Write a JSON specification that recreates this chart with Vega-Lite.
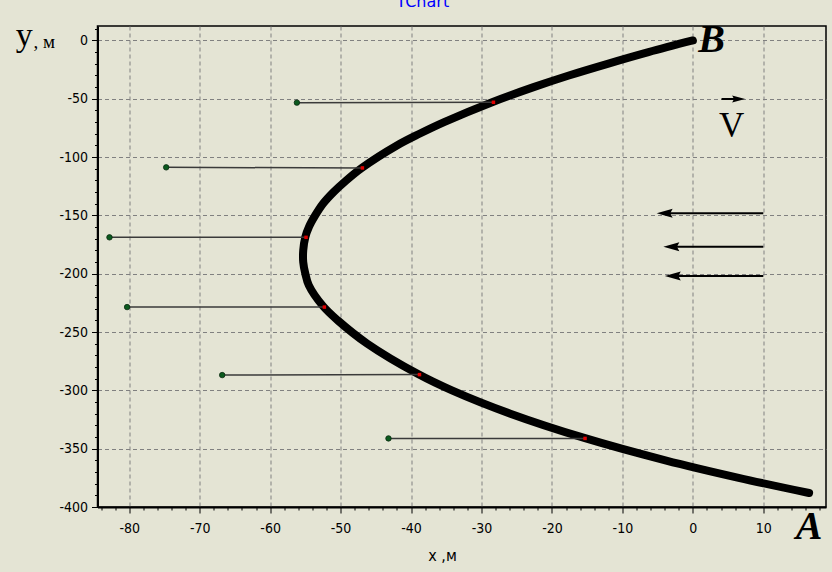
{
  "$schema": "https://vega.github.io/schema/vega-lite/v6.json",
  "autosize": "none",
  "width": 728.5,
  "height": 481,
  "padding": {"left": 97.5, "top": 26, "right": 6, "bottom": 65},
  "background": "#E4E4D4",
  "title": {"text": "TChart", "color": "#0000FF", "fontSize": 16, "font": "DejaVu Sans", "fontWeight": "normal", "anchor": "middle", "dx": -39, "dy": 6, "offset": 2, "baseline": "alphabetic"},
  "resolve": {"axis": {"x": "independent", "y": "independent"}},
  "config": {
    "view": {"fill": "#E4E4D4", "stroke": "#000000", "strokeWidth": 1.5},
    "axis": {"labelFont": "DejaVu Sans Condensed, Liberation Sans, sans-serif", "labelFontSize": 14, "labelColor": "#000000", "titleFont": "DejaVu Sans Condensed, Liberation Sans, sans-serif", "titleColor": "#000000", "domainColor": "#000000", "domainWidth": 2, "tickColor": "#000000", "tickSize": 6, "gridColor": "#808080", "gridDash": [4, 3], "gridWidth": 1, "labelOverlap": false, "labelBound": false, "labelFlush": false}
  },
  "datasets": {
    "curve": [
      {"i": 0, "x": 0, "y": 0},
      {"i": 1, "x": -6.3, "y": -10},
      {"i": 2, "x": -12.1, "y": -20},
      {"i": 3, "x": -17.6, "y": -30},
      {"i": 4, "x": -22.6, "y": -40},
      {"i": 5, "x": -28.4, "y": -52.7},
      {"i": 6, "x": -35.3, "y": -70},
      {"i": 7, "x": -38.8, "y": -80},
      {"i": 8, "x": -42.0, "y": -90},
      {"i": 9, "x": -47.0, "y": -109.3},
      {"i": 10, "x": -49.2, "y": -120},
      {"i": 11, "x": -51.0, "y": -130},
      {"i": 12, "x": -52.5, "y": -140},
      {"i": 13, "x": -53.6, "y": -150},
      {"i": 14, "x": -54.5, "y": -160},
      {"i": 15, "x": -55.0, "y": -168.5},
      {"i": 16, "x": -55.3, "y": -180},
      {"i": 17, "x": -55.3, "y": -190},
      {"i": 18, "x": -55.0, "y": -200},
      {"i": 19, "x": -54.5, "y": -210},
      {"i": 20, "x": -52.5, "y": -227.7},
      {"i": 21, "x": -50.4, "y": -240},
      {"i": 22, "x": -46.2, "y": -260},
      {"i": 23, "x": -39.0, "y": -286},
      {"i": 24, "x": -34.2, "y": -300},
      {"i": 25, "x": -25.9, "y": -320},
      {"i": 26, "x": -15.3, "y": -341},
      {"i": 27, "x": -3.9, "y": -360},
      {"i": 28, "x": 6.5, "y": -375},
      {"i": 29, "x": 16.5, "y": -388}
    ],
    "pairs": [
      {"xg": -56.2, "yg": -53.3, "xr": -28.3, "yr": -53.0},
      {"xg": -74.75, "yg": -108.8, "xr": -46.9, "yr": -109.3},
      {"xg": -82.8, "yg": -168.8, "xr": -54.9, "yr": -168.8},
      {"xg": -80.3, "yg": -228.6, "xr": -52.3, "yr": -228.6},
      {"xg": -66.8, "yg": -286.9, "xr": -38.8, "yr": -286.5},
      {"xg": -43.2, "yg": -341.2, "xr": -15.3, "yr": -341.2}
    ],
    "wind": [
      {"tail": 10, "tip": -5.15, "head": -4.0, "y": -148.2},
      {"tail": 10, "tip": -4.2, "head": -3.05, "y": -176.8},
      {"tail": 10, "tip": -4.0, "head": -2.85, "y": -202}
    ],
    "varrow": [
      {"tail": 4.07, "tip": 7.37, "head": 6.5, "y": -50.2}
    ]
  },
  "layer": [
    {
      "data": {"name": "curve"},
      "mark": {"type": "line", "color": "#000000", "strokeWidth": 8, "strokeCap": "round", "strokeJoin": "round", "interpolate": "catmull-rom"},
      "encoding": {
        "x": {"field": "x", "type": "quantitative", "title": "x ,м", "scale": {"domain": [-84.5, 18.9], "nice": false, "zero": false},
          "axis": {"orient": "bottom", "titleFontSize": 16, "titleFontWeight": "normal", "titleX": 344.5, "titleY": 53, "titleAlign": "center", "titleBaseline": "alphabetic",
            "values": [-80,-70,-60,-50,-40,-30,-20,-10,0,10],
            "labelExpr": "datum.value < 0 ? '-' + (-datum.value) : '' + datum.value",
            "labelPadding": 8}},
        "y": {"field": "y", "type": "quantitative", "title": null, "scale": {"domain": [-400, 12.4], "nice": false, "zero": false},
          "axis": {"orient": "left",
            "values": [-400,-350,-300,-250,-200,-150,-100,-50,0],
            "labelExpr": "datum.value < 0 ? '-' + (-datum.value) : '' + datum.value",
            "labelPadding": 4}},
        "order": {"field": "i", "type": "quantitative"}
      }
    },
    {
      "data": {"name": "pairs"},
      "mark": {"type": "rule", "color": "#3a3a3a", "strokeWidth": 1.5},
      "encoding": {
        "x": {"field": "xg", "type": "quantitative", "title": null, "scale": {"domain": [-84.5, 18.9], "nice": false, "zero": false},
          "axis": {"orient": "bottom", "values": [-84,-82,-78,-76,-74,-72,-68,-66,-64,-62,-58,-56,-54,-52,-48,-46,-44,-42,-38,-36,-34,-32,-28,-26,-24,-22,-18,-16,-14,-12,-8,-6,-4,-2,2,4,6,8,12,14,16,18], "labels": false, "domain": false, "grid": false, "tickSize": 3, "title": null}},
        "x2": {"field": "xr"},
        "y": {"field": "yg", "type": "quantitative", "title": null, "scale": {"domain": [-400, 12.4], "nice": false, "zero": false},
          "axis": {"orient": "left", "values": [-390,-380,-370,-360,-340,-330,-320,-310,-290,-280,-270,-260,-240,-230,-220,-210,-190,-180,-170,-160,-140,-130,-120,-110,-90,-80,-70,-60,-40,-30,-20,-10,10], "labels": false, "domain": false, "grid": false, "tickSize": 3, "title": null}},
        "y2": {"field": "yr"}
      }
    },
    {
      "data": {"name": "pairs"},
      "mark": {"type": "point", "filled": true, "shape": "circle", "size": 30, "color": "#0b5a1e", "stroke": "#0a2a10", "strokeWidth": 0.8, "opacity": 1},
      "encoding": {
        "x": {"field": "xg", "type": "quantitative", "scale": {"domain": [-84.5, 18.9], "nice": false, "zero": false}, "axis": null},
        "y": {"field": "yg", "type": "quantitative", "scale": {"domain": [-400, 12.4], "nice": false, "zero": false}, "axis": null}
      }
    },
    {
      "data": {"name": "pairs"},
      "mark": {"type": "point", "filled": true, "shape": "square", "size": 12, "color": "#e00000", "opacity": 1},
      "encoding": {
        "x": {"field": "xr", "type": "quantitative", "scale": {"domain": [-84.5, 18.9], "nice": false, "zero": false}, "axis": null},
        "y": {"field": "yr", "type": "quantitative", "scale": {"domain": [-400, 12.4], "nice": false, "zero": false}, "axis": null}
      }
    },
    {
      "data": {"name": "wind"},
      "mark": {"type": "rule", "color": "#000000", "strokeWidth": 2},
      "encoding": {
        "x": {"field": "tail", "type": "quantitative", "scale": {"domain": [-84.5, 18.9], "nice": false, "zero": false}, "axis": null},
        "x2": {"field": "head"},
        "y": {"field": "y", "type": "quantitative", "scale": {"domain": [-400, 12.4], "nice": false, "zero": false}, "axis": null}
      }
    },
    {
      "data": {"name": "wind"},
      "mark": {"type": "point", "filled": true, "shape": "M-1,0L1,-0.56L0.7,0L1,0.56Z", "size": 256, "color": "#000000", "opacity": 1},
      "encoding": {
        "x": {"field": "head", "type": "quantitative", "scale": {"domain": [-84.5, 18.9], "nice": false, "zero": false}, "axis": null},
        "y": {"field": "y", "type": "quantitative", "scale": {"domain": [-400, 12.4], "nice": false, "zero": false}, "axis": null}
      }
    },
    {
      "data": {"name": "varrow"},
      "mark": {"type": "rule", "color": "#000000", "strokeWidth": 2},
      "encoding": {
        "x": {"field": "tail", "type": "quantitative", "scale": {"domain": [-84.5, 18.9], "nice": false, "zero": false}, "axis": null},
        "x2": {"field": "head"},
        "y": {"field": "y", "type": "quantitative", "scale": {"domain": [-400, 12.4], "nice": false, "zero": false}, "axis": null}
      }
    },
    {
      "data": {"name": "varrow"},
      "mark": {"type": "point", "filled": true, "shape": "M1,0L-1,-0.55L-0.7,0L-1,0.55Z", "size": 169, "color": "#000000", "opacity": 1},
      "encoding": {
        "x": {"field": "head", "type": "quantitative", "scale": {"domain": [-84.5, 18.9], "nice": false, "zero": false}, "axis": null},
        "y": {"field": "y", "type": "quantitative", "scale": {"domain": [-400, 12.4], "nice": false, "zero": false}, "axis": null}
      }
    },
    {
      "data": {"values": [{"label": "B", "x": 2.65, "y": -9.6}, {"label": "A", "x": 16.5, "y": -427.5}]},
      "mark": {"type": "text", "font": "Liberation Serif", "fontSize": 40, "fontWeight": "bold", "fontStyle": "italic", "align": "center", "baseline": "alphabetic", "color": "#000000"},
      "encoding": {
        "x": {"field": "x", "type": "quantitative", "scale": {"domain": [-84.5, 18.9], "nice": false, "zero": false}, "axis": null},
        "y": {"field": "y", "type": "quantitative", "scale": {"domain": [-400, 12.4], "nice": false, "zero": false}, "axis": null},
        "text": {"field": "label"}
      }
    },
    {
      "data": {"values": [{"label": "V", "x": 5.5, "y": -82.5}]},
      "mark": {"type": "text", "font": "Liberation Serif", "fontSize": 35, "align": "center", "baseline": "alphabetic", "color": "#000000"},
      "encoding": {
        "x": {"field": "x", "type": "quantitative", "scale": {"domain": [-84.5, 18.9], "nice": false, "zero": false}, "axis": null},
        "y": {"field": "y", "type": "quantitative", "scale": {"domain": [-400, 12.4], "nice": false, "zero": false}, "axis": null},
        "text": {"field": "label"}
      }
    },
    {
      "data": {"values": [{"label": "y", "x": -94.9, "y": -4.7}]},
      "mark": {"type": "text", "font": "Liberation Serif", "fontSize": 34, "align": "center", "baseline": "alphabetic", "color": "#000000"},
      "encoding": {
        "x": {"field": "x", "type": "quantitative", "scale": {"domain": [-84.5, 18.9], "nice": false, "zero": false}, "axis": null},
        "y": {"field": "y", "type": "quantitative", "scale": {"domain": [-400, 12.4], "nice": false, "zero": false}, "axis": null},
        "text": {"field": "label"}
      }
    },
    {
      "data": {"values": [{"label": ", м", "x": -93.6, "y": -6.4}]},
      "mark": {"type": "text", "font": "Liberation Serif", "fontSize": 19, "align": "left", "baseline": "alphabetic", "color": "#000000"},
      "encoding": {
        "x": {"field": "x", "type": "quantitative", "scale": {"domain": [-84.5, 18.9], "nice": false, "zero": false}, "axis": null},
        "y": {"field": "y", "type": "quantitative", "scale": {"domain": [-400, 12.4], "nice": false, "zero": false}, "axis": null},
        "text": {"field": "label"}
      }
    }
  ]
}
